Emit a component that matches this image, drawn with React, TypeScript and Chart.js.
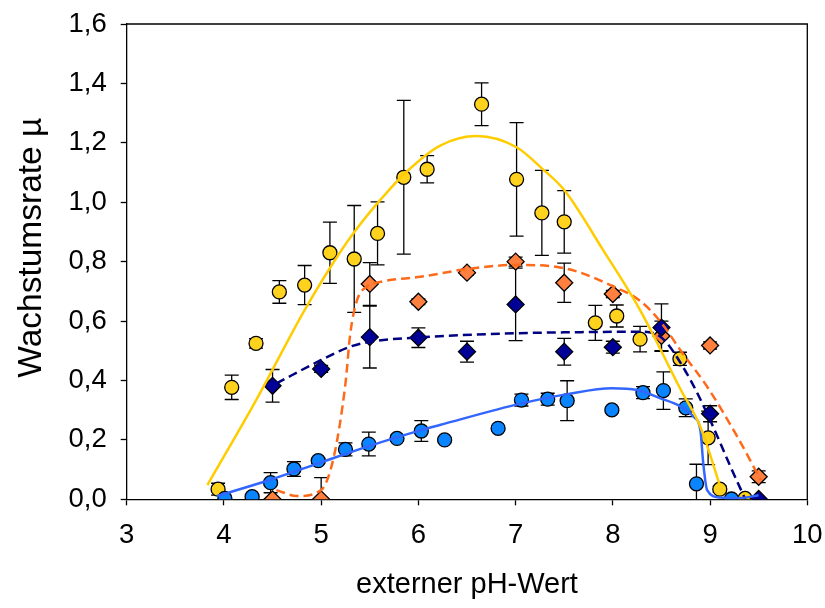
import React, { useEffect, useRef } from "react";
import { Chart, registerables } from "chart.js";

Chart.register(...registerables);

// Measured points (pH, growth rate, error)
const yellowX = [3.94, 4.08, 4.33, 4.57, 4.83, 5.09, 5.34, 5.58, 5.85, 6.09, 6.65, 7.01, 7.27, 7.5, 7.82, 8.04, 8.28, 8.69, 8.98, 9.1, 9.36];
const yellowY = [0.034, 0.377, 0.525, 0.698, 0.721, 0.83, 0.809, 0.895, 1.084, 1.111, 1.33, 1.077, 0.964, 0.934, 0.594, 0.617, 0.539, 0.473, 0.207, 0.034, 0.003];
const yellowErr = [0.02, 0.041, 0.016, 0.038, 0.066, 0.103, 0.18, 0.106, 0.259, 0.046, 0.072, 0.191, 0.143, 0.105, 0.059, 0.037, 0.043, 0.022, 0.09, 0.01, 0];

const orangeX = [4.5, 5.0, 5.5, 6.0, 6.5, 7.0, 7.5, 8.0, 8.5, 9.0, 9.5];
const orangeY = [0.0, 0.0, 0.725, 0.665, 0.763, 0.8, 0.729, 0.691, 0.55, 0.518, 0.076];
const orangeErr = [0, 0.073, 0.072, 0.01, 0.008, 0.015, 0.066, 0.012, 0.05, 0.012, 0.02];

const navyX = [4.5, 5.0, 5.5, 6.0, 6.5, 7.0, 7.5, 8.0, 8.5, 9.0, 9.5];
const navyY = [0.382, 0.439, 0.546, 0.544, 0.497, 0.656, 0.497, 0.512, 0.578, 0.288, 0.001];
const navyErr = [0.055, 0.012, 0.104, 0.033, 0.035, 0.122, 0.045, 0.02, 0.08, 0.027, 0];

const blueX = [4.01, 4.29, 4.48, 4.72, 4.97, 5.25, 5.49, 5.78, 6.03, 6.27, 6.82, 7.06, 7.33, 7.53, 7.99, 8.31, 8.52, 8.75, 8.86, 9.22];
const blueY = [0.003, 0.009, 0.056, 0.102, 0.13, 0.168, 0.186, 0.205, 0.23, 0.2, 0.239, 0.334, 0.337, 0.332, 0.301, 0.359, 0.366, 0.308, 0.052, 0.001];
const blueErr = [0, 0, 0.034, 0.025, 0.008, 0.022, 0.04, 0.01, 0.035, 0.006, 0.008, 0.02, 0.02, 0.067, 0.005, 0.02, 0.063, 0.03, 0.066, 0];

// Fitted curves
const yellowFitX = [3.83, 4.34, 4.83, 5.21, 5.4, 5.62, 5.87, 6.22, 6.6, 7.01, 7.27, 7.5, 7.9, 8.28, 8.7, 8.9, 9.1];
const yellowFitY = [0.048, 0.339, 0.637, 0.839, 0.925, 1.012, 1.1, 1.19, 1.223, 1.185, 1.114, 1.041, 0.839, 0.637, 0.368, 0.244, 0.048];

const orangeFitX = [4.54, 4.75, 5.0, 5.13, 5.25, 5.3, 5.37, 5.47, 5.61, 6.02, 6.5, 7.0, 7.5, 8.01, 8.28, 8.49, 8.71, 8.97, 9.28, 9.52];
const orangeFitY = [0.031, 0.011, 0.031, 0.143, 0.39, 0.559, 0.671, 0.716, 0.732, 0.749, 0.775, 0.789, 0.778, 0.716, 0.668, 0.598, 0.495, 0.379, 0.211, 0.065];

const navyFitX = [4.54, 5.0, 5.3, 5.5, 6.0, 7.0, 7.5, 8.28, 8.49, 8.76, 9.0, 9.21, 9.39];
const navyFitY = [0.39, 0.469, 0.514, 0.53, 0.545, 0.559, 0.562, 0.564, 0.547, 0.424, 0.267, 0.11, -0.02];

const blueFitX = [3.93, 4.47, 4.97, 5.49, 6.02, 6.22, 7.06, 7.53, 7.99, 8.25, 8.49, 8.7, 8.83, 8.9, 8.93, 8.97, 9.1, 9.31, 9.5];
const blueFitY = [0.011, 0.065, 0.121, 0.179, 0.232, 0.25, 0.323, 0.354, 0.374, 0.368, 0.34, 0.312, 0.278, 0.233, 0.121, 0.031, 0.006, 0.004, 0.014];

const xTicks = [3, 4, 5, 6, 7, 8, 9, 10];
const yTicks = [0, 0.2, 0.4, 0.6, 0.8, 1.0, 1.2, 1.4, 1.6];

const toPts = (xs: number[], ys: number[]) => xs.map((x, i) => ({ x, y: ys[i] }));

const errorSeries = [
  { x: yellowX, y: yellowY, err: yellowErr },
  { x: orangeX, y: orangeY, err: orangeErr },
  { x: navyX, y: navyY, err: navyErr },
  { x: blueX, y: blueY, err: blueErr },
];

const FONT = "'Liberation Sans', Arial, sans-serif";

const errorBarPlugin = {
  id: "errorBars",
  beforeDatasetsDraw(chart: any) {
    const { ctx, chartArea, scales } = chart;
    const xs = scales.x;
    const ys = scales.y;
    ctx.save();
    ctx.beginPath();
    ctx.rect(chartArea.left, chartArea.top, chartArea.right - chartArea.left, chartArea.bottom - chartArea.top);
    ctx.clip();
    ctx.strokeStyle = "#000";
    ctx.lineWidth = 1.3;
    for (const s of errorSeries) {
      s.x.forEach((xv: number, i: number) => {
        const e = s.err[i];
        if (!e) return;
        const px = xs.getPixelForValue(xv);
        const top = ys.getPixelForValue(s.y[i] + e);
        const bot = ys.getPixelForValue(s.y[i] - e);
        ctx.beginPath();
        ctx.moveTo(px, top);
        ctx.lineTo(px, bot);
        ctx.moveTo(px - 7, top);
        ctx.lineTo(px + 7, top);
        ctx.moveTo(px - 7, bot);
        ctx.lineTo(px + 7, bot);
        ctx.stroke();
      });
    }
    ctx.restore();
  },
};

const frameBorderPlugin = {
  id: "frameBorder",
  afterDraw(chart: any) {
    const { ctx, chartArea } = chart;
    ctx.save();
    ctx.strokeStyle = "#000";
    ctx.lineWidth = 1.3;
    ctx.beginPath();
    ctx.moveTo(chartArea.left, chartArea.top);
    ctx.lineTo(chartArea.right, chartArea.top);
    ctx.lineTo(chartArea.right, chartArea.bottom);
    ctx.stroke();
    ctx.restore();
  },
};

export default function App() {
  const canvasRef = useRef<HTMLCanvasElement | null>(null);

  useEffect(() => {
    if (!canvasRef.current) return;
    const lineDs = (data: any, color: string, dash: number[]) => ({
      type: "line",
      data,
      borderColor: color,
      borderWidth: 2.5,
      borderDash: dash,
      pointRadius: 0,
      fill: false,
      tension: 0.4,
      cubicInterpolationMode: "monotone",
    });
    const markerDs = (data: any, fill: string, style: string, r: number) => ({
      type: "scatter",
      data,
      backgroundColor: fill,
      borderColor: "#000",
      borderWidth: 1.3,
      pointStyle: style,
      pointRadius: r,
      showLine: false,
    });
    const chart = new Chart(canvasRef.current, {
      type: "scatter",
      data: {
        datasets: [
          lineDs(toPts(yellowFitX, yellowFitY), "#FFCC00", []),
          lineDs(toPts(blueFitX, blueFitY), "#3366FF", []),
          lineDs(toPts(navyFitX, navyFitY), "#000080", [9, 5]),
          lineDs(toPts(orangeFitX, orangeFitY), "#FF6A1A", [9, 5]),
          markerDs(toPts(navyX, navyY), "#000099", "rectRot", 8.5),
          markerDs(toPts(blueX, blueY), "#0A84FF", "circle", 7),
          markerDs(toPts(orangeX, orangeY), "#FF7F3F", "rectRot", 8.5),
          markerDs(toPts(yellowX, yellowY), "#FFD21E", "circle", 7),
        ] as any,
      },
      options: {
        animation: false,
        responsive: true,
        maintainAspectRatio: false,
        layout: { padding: { top: 24, right: 17.7, left: 0, bottom: 0 } },
        plugins: { legend: { display: false }, tooltip: { enabled: false } },
        scales: {
          x: {
            type: "linear",
            min: 3,
            max: 10,
            afterBuildTicks: (scale: any) => {
              scale.ticks = xTicks.map((v) => ({ value: v }));
            },
            afterFit: (scale: any) => {
              scale.height = 108.7;
              scale.paddingLeft = 0;
              scale.paddingRight = 0;
            },
            grid: { display: true, drawOnChartArea: false, drawTicks: true, tickLength: 6, tickColor: "#000", tickWidth: 1.3 },
            border: { display: true, color: "#000", width: 1.3 },
            ticks: { color: "#000", font: { family: FONT, size: 27.5 }, padding: 14, maxRotation: 0 },
            title: { display: true, text: "externer pH-Wert", color: "#000", font: { family: FONT, size: 29 }, padding: { top: 0, bottom: 6 } },
          },
          y: {
            type: "linear",
            min: 0,
            max: 1.6,
            afterBuildTicks: (scale: any) => {
              scale.ticks = yTicks.map((v) => ({ value: v }));
            },
            afterFit: (scale: any) => {
              scale.width = 126.7;
              scale.paddingTop = 0;
              scale.paddingBottom = 0;
            },
            grid: { display: true, drawOnChartArea: false, drawTicks: true, tickLength: 6, tickColor: "#000", tickWidth: 1.3 },
            border: { display: true, color: "#000", width: 1.3 },
            ticks: {
              color: "#000",
              font: { family: FONT, size: 27.5 },
              padding: 14,
              callback: (v: any) => Number(v).toFixed(1).replace(".", ","),
            },
            title: { display: true, text: "   Wachstumsrate µ", color: "#000", font: { family: FONT, size: 33.5 }, padding: { top: 12, bottom: 0 } },
          },
        },
      },
      plugins: [errorBarPlugin, frameBorderPlugin],
    } as any);
    return () => chart.destroy();
  }, []);

  return (
    <div style={{ position: "absolute", left: 0, top: 0, width: 825, height: 608, background: "#fff" }}>
      <canvas ref={canvasRef} />
    </div>
  );
}
